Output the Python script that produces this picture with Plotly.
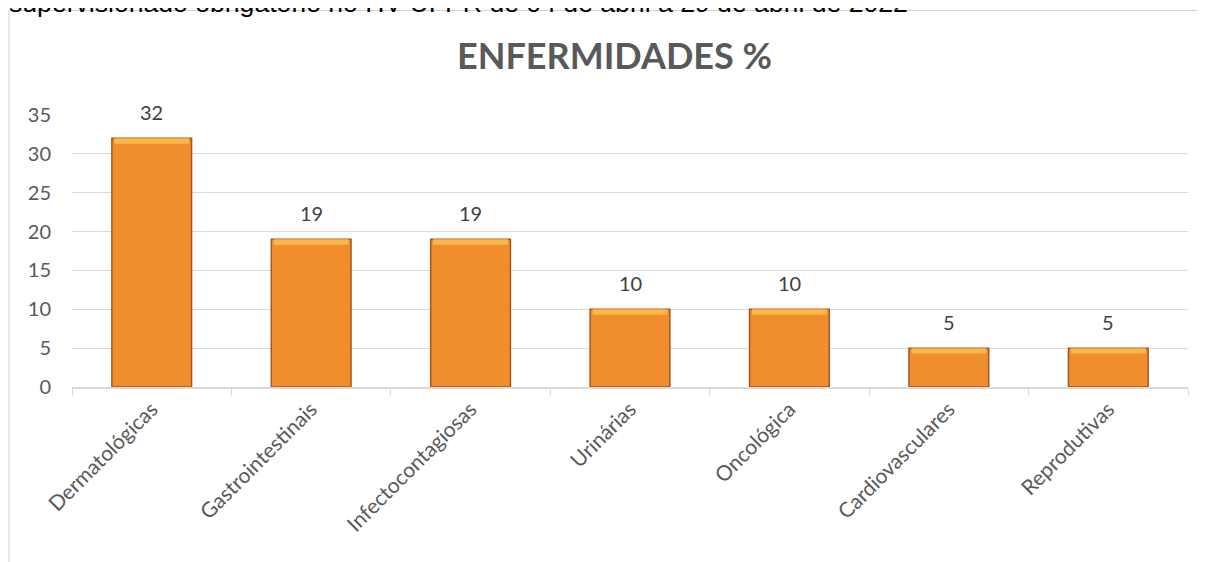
import plotly.graph_objects as go

categories = ["Dermatológicas", "Gastrointestinais", "Infectocontagiosas", "Urinárias",
              "Oncológica", "Cardiovasculares", "Reprodutivas"]
values = [32, 19, 19, 10, 10, 5, 5]
y_ticks = [0, 5, 10, 15, 20, 25, 30, 35]
title_text = "ENFERMIDADES %"
caption_text = "supervisionado obrigatório no HV-UFPR de 04 de abril a 29 de abril de 2022"

# page has an 8px body margin, so figure coords = page coords - 8
W, H = 1205, 562
L, R, T, B = 64, 25, 107, 183
pw, ph = W - L - R, H - T - B

def px_x(p):
    return (p - L) / pw

def px_y(p):
    return (H - B - p) / ph

FONT = "Lato, Carlito, 'Noto Sans', sans-serif"
GRAY = "#595959"

fig = go.Figure()
fig.add_trace(go.Bar(
    x=categories, y=values, width=0.5,
    marker=dict(color="#F08D2D", line=dict(color="#A8561C", width=1.5)),
    hoverinfo="x+y",
))
# lighter top bevel
fig.add_trace(go.Bar(
    x=categories, y=[0.7] * len(values), base=[v - 0.7 for v in values], width=0.47,
    marker=dict(color="#FBB748", line=dict(width=0)), hoverinfo="skip",
))

for c, v in zip(categories, values):
    fig.add_annotation(x=c, y=v, text=str(v), showarrow=False, yanchor="bottom",
                       yshift=12, font=dict(family=FONT, size=20, color="#404040"))

fig.add_annotation(xref="paper", yref="paper", x=px_x(606), y=px_y(47), text=title_text,
                   showarrow=False, xanchor="center", yanchor="middle",
                   font=dict(family=FONT, size=36, color=GRAY, weight="bold"))

fig.add_annotation(xref="paper", yref="paper", x=px_x(-1), y=px_y(12), text=caption_text,
                   showarrow=False, xanchor="left", yanchor="bottom",
                   font=dict(family="Liberation Sans, Arial, sans-serif", size=26.6, color="#000000"))

fig.add_shape(type="rect", xref="paper", yref="paper", x0=px_x(1), x1=px_x(1260),
              y0=px_y(2.5), y1=px_y(600), line=dict(color="#D0D0D0", width=1), layer="below")

fig.update_layout(
    width=W, height=H, margin=dict(l=L, r=R, t=T, b=B),
    plot_bgcolor="white", paper_bgcolor="white",
    showlegend=False, barmode="overlay",
    font=dict(family=FONT, size=20, color=GRAY),
)
fig.update_xaxes(showline=True, linecolor="#D9D9D9", linewidth=1.5,
                 ticks="outside", tickson="boundaries", ticklen=7, tickcolor="#D9D9D9",
                 tickangle=-45, tickfont=dict(family=FONT, size=21, color=GRAY),
                 showgrid=False)
fig.update_yaxes(range=[0, 35], tickvals=y_ticks, showgrid=True, gridcolor="#D9D9D9",
                 gridwidth=1, zeroline=False, showline=False, ticks="", ticklabelstandoff=20,
                 tickfont=dict(family=FONT, size=20, color=GRAY))

fig.write_html("out.html")
